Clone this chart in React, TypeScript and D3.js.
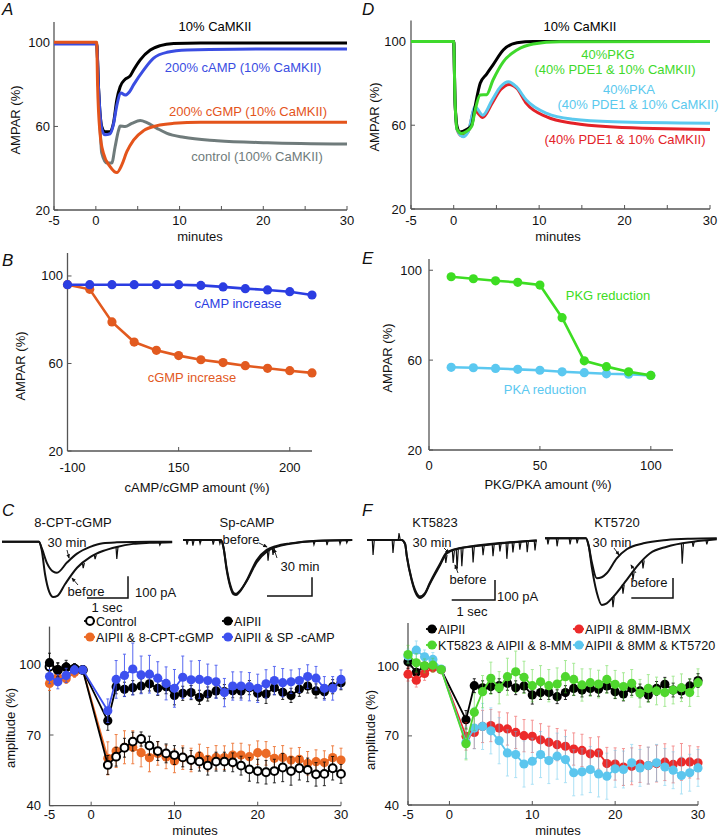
import React from 'react';
import * as d3 from 'd3';

const FONT = "'Liberation Sans', Arial, Helvetica, sans-serif";

// ---------------- Panel A (simulation, minutes vs AMPAR %) ----------------
const A_BLACK_T = [-5, 0.1, 0.3, 0.7, 1.1, 1.7, 2.1, 2.5, 2.9, 3.5, 4.1, 4.5, 5.3, 6.5, 7.7, 9.3, 12.5, 30];
const A_BLACK_V = [100, 100, 80, 60, 57.5, 57.5, 61.5, 72.7, 79, 82.6, 84.2, 87, 91.9, 96.6, 98.7, 99.7, 100, 100];
const A_BLUE_T = [-5, 0.1, 0.3, 0.7, 1.1, 1.7, 2.1, 2.5, 3.0, 3.5, 4.0, 4.5, 5.7, 6.9, 8.5, 10.9, 16.5, 30];
const A_BLUE_V = [99.5, 99.5, 80, 59, 56, 56.5, 61, 70, 76, 75, 76.5, 79.9, 87, 92.7, 95.5, 96.6, 97, 97.1];
const A_GRAY_T = [-5, 0.1, 0.3, 0.5, 0.7, 1.3, 1.9, 2.3, 2.7, 2.9, 3.5, 4.3, 5.3, 6.1, 7.3, 8.5, 10.5, 14.5, 20.5, 30];
const A_GRAY_V = [100, 100, 80, 60, 47.3, 42.5, 42.5, 50.3, 58, 60.2, 60, 61.5, 62.8, 61.8, 59.1, 56.7, 54.8, 53.2, 52.2, 51.6];
const A_ORANGE_T = [-5, 0.1, 0.2, 0.5, 0.9, 1.7, 2.5, 3.1, 3.7, 4.5, 5.7, 7.3, 9.3, 12.5, 30];
const A_ORANGE_V = [100.3, 100.3, 80.7, 56.7, 47.2, 40.8, 37.9, 41.6, 47.9, 53.5, 58, 60.4, 61.5, 62, 62];

// ---------------- Panel D ----------------
const D_BLACK_T = [-5, 0, 0.15, 0.4, 0.7, 1.5, 2.1, 2.5, 3.1, 3.85, 4.6, 5.8, 7.4, 9.3, 30];
const D_BLACK_V = [100, 100, 72, 59.2, 56.8, 58, 60, 68.8, 80, 84.4, 88.8, 95.9, 99.4, 100, 100];
const D_GREEN_T = [-5, 0, 0.15, 0.4, 0.9, 1.5, 2.1, 2.5, 3.1, 3.85, 4.6, 5.8, 7.4, 9.3, 12.4, 30];
const D_GREEN_V = [100, 100, 72, 58, 56, 57, 59.5, 67, 74.4, 74.6, 81.6, 90.3, 95.9, 98.8, 99.8, 100];
const D_CYAN_T = [-5, 0, 0.15, 0.4, 1.1, 1.7, 2.5, 3.4, 4.5, 5.5, 6.4, 7.3, 8.5, 10.9, 14, 18.7, 30];
const D_CYAN_V = [100, 100, 72, 58, 54.5, 57, 68.8, 64.8, 72, 78.5, 80.8, 78.5, 72, 65.6, 62.8, 61.6, 60.9];
const D_RED_T = [-5, 0, 0.15, 0.4, 0.9, 1.7, 2.4, 3.4, 4.5, 5.5, 6.5, 7.4, 8.5, 10.9, 14, 18.7, 30];
const D_RED_V = [100, 100, 72, 58, 55, 57, 67.2, 63.7, 70.5, 77, 79.5, 77.5, 70.4, 64, 60.9, 59.2, 58];

// ---------------- Panel B ----------------
const B_AMOUNT = [100, 110, 120, 130, 140, 150, 160, 170, 180, 190, 200, 210];
const B_CAMP = [96, 96, 96, 96, 96, 96, 95.7, 95, 94.2, 93.6, 92.8, 91.3];
const B_CGMP = [96, 93.9, 79, 69.8, 66, 63.6, 61.7, 60.4, 59, 57.8, 56.7, 55.7];
const B_X_TICKS = [100, 150, 200];
const B_X_LABELS = ['-100', '150', '200'];

// ---------------- Panel E ----------------
const E_AMOUNT = [10, 20, 30, 40, 50, 60, 70, 80, 90, 100];
const E_PKG = [97.1, 96.2, 95.3, 94.6, 93.4, 78.9, 59.7, 57.1, 54.8, 53.2];
const E_PKA = [56.8, 56.6, 56.3, 55.9, 55.5, 54.8, 54.4, 53.9, 53.7, 53.2];
const E_X_TICKS = [0, 50, 100];

const AMPAR_TICKS = [20, 60, 100];
const MIN_TICKS = [-5, 0, 5, 10, 15, 20, 25, 30];
const MIN_LABELS = ['-5', '0', '', '10', '', '20', '', '30'];
const EXP_X_TICKS = [-5, 0, 10, 20, 30];
const EXP_Y_TICKS = [40, 70, 100];

// ---------------- Panel C (experiment) ----------------
const EXP_T = [-5, -4, -3, -2, -1, 2, 3, 4, 5, 6, 7, 8, 9, 10, 11, 12, 13, 14, 15, 16, 17, 18, 19, 20, 21, 22, 23, 24, 25, 26, 27, 28, 29, 30];
const C_CONTROL = [99, 97.6, 98.7, 98.2, 97.6, 57.3, 60.8, 64.6, 67.2, 68.3, 65.5, 63.2, 62.2, 61.5, 60.5, 59.4, 58.7, 57, 58.7, 58.7, 58.4, 57, 55.4, 54.7, 54.2, 54.7, 56.2, 54.7, 55.9, 55.2, 53.3, 53.5, 55.9, 53.5];
const C_CONTROL_E = [3, 3, 2, 2, 1, 4, 4, 4, 4, 3, 4, 4, 4, 4, 4, 4, 4, 4, 4, 4, 4, 4, 5, 5, 5, 5, 6, 6, 5, 5, 5, 5, 5, 4];
const C_AIPII = [100.7, 97.6, 98.7, 98.2, 97.6, 76, 90.5, 89.4, 90.1, 90.8, 91.7, 89.8, 90.5, 86.8, 87.7, 88, 86, 87.4, 88.7, 88.4, 88.8, 88.7, 90.1, 87.7, 87.4, 90.1, 88.1, 86.8, 89.4, 90.8, 88.7, 88.4, 90.5, 92.2];
const C_AIPII_E = [4, 3, 3, 2, 1, 4, 3, 3, 3, 3, 3, 3, 3, 4, 3, 3, 3, 3, 3, 3, 3, 3, 3, 3, 4, 3, 3, 3, 3, 3, 3, 3, 3, 3];
const C_CGMP = [91.9, 94.5, 93.9, 96.5, 97.6, 60.1, 63.2, 64.8, 64.8, 62.5, 60.4, 62.2, 60.7, 59, 60.4, 59.4, 61.1, 59.7, 60.5, 60.4, 61.5, 61.5, 60.8, 62.5, 62.2, 60.1, 60.5, 59.4, 59.7, 58, 58.7, 58.3, 60.4, 59.4];
const C_CGMP_E = [3, 3, 2, 2, 1, 7, 7, 7, 7, 6, 6, 5, 5, 5, 5, 5, 5, 5, 5, 5, 5, 5, 5, 5, 5, 5, 5, 5, 5, 5, 5, 5, 5, 5];
const C_CAMP = [94.8, 92.6, 95.3, 97.6, 97.6, 80.3, 93.6, 95.3, 98, 95.5, 95.8, 94.1, 91.9, 89.8, 94.5, 93.4, 93.6, 93.1, 92.6, 88, 90.8, 90.8, 90.5, 89.8, 91.7, 93.1, 92.2, 92.6, 93.1, 94.8, 94.1, 89.8, 89.8, 93.6];
const C_CAMP_E = [3, 3, 3, 2, 1, 5, 8, 9, 11, 8, 8, 7, 7, 8, 9, 8, 8, 7, 7, 6, 6, 6, 6, 6, 6, 6, 6, 5, 5, 5, 5, 5, 5, 4];

// ---------------- Panel F (experiment) ----------------
const F_AIPII = [102.2, 97.6, 100.3, 100, 98.8, 77, 91.8, 90.9, 91.4, 91.8, 92.8, 90.9, 91.7, 87.8, 88.8, 88.8, 87, 88.8, 90.6, 89.9, 90.6, 90.2, 91.7, 89.2, 88.2, 90.6, 89.5, 87.8, 90.6, 92.4, 89.9, 89.5, 91.7, 94];
const F_AIPII_E = [3, 3, 3, 2, 1, 4, 3, 3, 3, 3, 3, 3, 3, 4, 3, 3, 3, 3, 3, 3, 3, 3, 3, 3, 3, 3, 3, 3, 3, 3, 3, 3, 3, 3];
const F_IBMX = [96.8, 94.2, 97.1, 99.6, 98.8, 69.8, 71.5, 74.1, 74.5, 73.4, 73, 71.5, 70.1, 69.8, 68.3, 67.2, 66.2, 65.5, 64.3, 63.7, 62.2, 62.6, 58, 57.8, 56.5, 56.8, 57.8, 57.1, 58, 58.6, 57.6, 58.7, 58.7, 58.3];
const F_IBMX_E = [3, 3, 3, 2, 1, 6, 7, 7, 7, 7, 7, 7, 7, 7, 7, 7, 7, 7, 7, 7, 7, 7, 7, 7, 8, 8, 8, 8, 8, 8, 8, 8, 7, 7];
const F_KT5720 = [104.7, 107.2, 104.3, 103.2, 99, 67.2, 73.4, 74.1, 72.2, 67.9, 62.6, 61.9, 57.8, 59, 61.9, 59.3, 61.2, 59.7, 54, 54.4, 55.4, 53.5, 52.5, 55.7, 55.4, 58.3, 56.1, 57.1, 58.3, 56.5, 55.1, 52.8, 54, 56.1];
const F_KT5720_E = [3, 4, 3, 3, 1, 7, 9, 10, 10, 10, 10, 10, 10, 10, 10, 10, 10, 10, 10, 10, 10, 10, 10, 8, 8, 8, 8, 8, 8, 8, 8, 8, 8, 8];
const F_KT5823 = [105.3, 101.7, 100.4, 100.7, 98.8, 66.6, 80.3, 89.2, 95, 90.9, 95.7, 97.8, 95.4, 91.8, 93.5, 91.8, 92.5, 95.7, 94.5, 92.1, 93.1, 92.5, 94.5, 92.4, 91.4, 92.8, 88.5, 90.6, 89.5, 88.8, 89.9, 90.9, 88.8, 93.1];
const F_KT5823_E = [4, 4, 3, 3, 1, 7, 8, 7, 7, 7, 8, 9, 7, 7, 7, 7, 7, 7, 7, 7, 6, 6, 6, 6, 6, 6, 6, 6, 6, 6, 6, 6, 6, 6];

// ---------------- Current traces (sec, pA) ----------------
const TC1_BEFORE_T = [0, 0.9, 0.97, 1.05, 1.15, 1.25, 1.35, 1.54, 1.83, 2.15, 2.46, 2.8, 3.2, 3.6, 4.15];
const TC1_BEFORE_I = [0, 0, -40, -150, -230, -255, -250, -195, -120, -71, -43, -24, -10, -5, -2];
const TC1_30_T = [0, 0.9, 0.97, 1.1, 1.25, 1.34, 1.59, 1.83, 2.15, 2.46, 2.8, 3.6, 4.15];
const TC1_30_I = [0, 0, -30, -100, -138, -143, -95, -55, -24, -7, -3, 0, 0];
const TC1_SPIKE_T = [1.98, 2.27, 2.8, 3.85];
const TC1_SPIKE_A = [25, 20, 55, 12];

const TC2_BEFORE_T = [0, 0.84, 0.9, 0.97, 1.05, 1.12, 1.18, 1.25, 1.42, 1.64, 1.86, 2.08, 2.38, 2.97, 3.76];
const TC2_BEFORE_I = [0, 0, -40, -160, -250, -290, -294, -280, -214, -107, -53, -32, -18, -4, 0];
const TC2_30_T = [0, 0.84, 0.9, 0.97, 1.05, 1.12, 1.18, 1.25, 1.42, 1.64, 1.86, 2.08, 2.38, 2.97, 3.76];
const TC2_30_I = [0, 0, -40, -150, -240, -282, -288, -275, -218, -118, -62, -36, -20, -5, 0];
const TC2_SPIKE_T = [0.09, 0.22, 0.38, 0.67, 0.82, 1.89, 2.0, 2.91, 3.2, 3.49, 3.64];
const TC2_SPIKE_A = [25, 30, 20, 25, 20, 60, 40, 20, 25, 20, 15];

const TF1_BEFORE_T = [0, 0.8, 0.88, 0.92, 1.03, 1.11, 1.22, 1.34, 1.45, 1.69, 1.84, 2.15, 2.53, 3.07, 3.92];
const TF1_BEFORE_I = [0, 0, -20, -83, -200, -258, -290, -270, -220, -125, -67, -42, -30, -17, -2];
const TF1_30_T = [0, 0.8, 0.88, 0.92, 1.03, 1.11, 1.22, 1.34, 1.45, 1.69, 1.84, 2.15, 2.53, 3.07, 3.92];
const TF1_30_I = [0, 0, -20, -80, -195, -250, -282, -265, -215, -118, -62, -40, -28, -15, -2];
const TF1_SPIKE_T = [0.14, 0.6, 0.74, 1.82, 1.99, 2.08, 2.19, 2.45, 2.68, 2.91, 3.07, 3.23, 3.37, 3.53, 3.7, 3.88];
const TF1_SPIKE_A = [75, 65, -35, 40, 60, 100, 90, 80, 50, 60, 40, 80, 50, 40, 55, 50];

const TF2_BEFORE_T = [0, 0.98, 1.05, 1.12, 1.24, 1.36, 1.48, 1.64, 1.96, 2.2, 2.52, 2.92, 3.56, 4.12];
const TF2_BEFORE_I = [0, 0, -40, -142, -270, -333, -325, -292, -208, -142, -75, -42, -17, -5];
const TF2_30_T = [0, 0.98, 1.05, 1.12, 1.24, 1.36, 1.48, 1.72, 1.96, 2.36, 2.92, 3.5, 4.12];
const TF2_30_I = [0, 0, -40, -117, -200, -195, -175, -100, -55, -25, -8, -2, 0];
const TF2_SPIKE_T = [0.07, 0.29, 0.6, 0.77, 1.63, 1.87, 2.11, 2.35, 3.29, 3.55, 3.88];
const TF2_SPIKE_A = [30, 40, 30, 25, 50, 45, 40, 40, 100, 25, 20];

// ---------------- colours ----------------
const COL = {
  black: '#000000',
  aBlue: '#3a4de2', aOrange: '#e4541b', aGray: '#6f7b7b',
  dGreen: '#3fd92c', dCyan: '#5bc9ee', dRed: '#e32228',
  bBlue: '#2b3de2', bOrange: '#e25a1f',
  eGreen: '#3ddd22', eCyan: '#5bc8f0',
  cOrange: '#ec6a25', cBlue: '#3d50ef',
  fRed: '#ec2a2a', fGreen: '#4fd62e', fCyan: '#5cc6ee',
  axis: '#555555',
};

type Pt = [number, number];
type LS = d3.ScaleLinear<number, number>;
const zip = (a: number[], b: number[]): Pt[] => a.map((t, i) => [t, b[i]]);

const TXT = { fontFamily: FONT, fontSize: 13 } as const;

function Axes(p: {
  xs: LS; ys: LS; xTicks: number[]; xLabels: string[]; yTicks: number[];
  xLabelY: number; yLabelX: number; xTitle: string; xTitleX: number; xTitleY: number;
  yTitle: string; yTitleX: number; yTitleY: number; xLabelDx?: number;
}) {
  const { xs, ys } = p;
  const [x0, x1] = xs.range();
  const [y0, y1] = ys.range();
  return (
    <g style={TXT}>
      <line x1={x0} x2={x0} y1={y1} y2={y0} stroke={COL.axis} strokeWidth={1.3} />
      <line x1={x0} x2={x1} y1={y0} y2={y0} stroke={COL.axis} strokeWidth={1.3} />
      {p.xTicks.map((t) => (
        <line key={'xt' + t} x1={xs(t)} x2={xs(t)} y1={y0} y2={y0 - 4} stroke={COL.axis} strokeWidth={1} />
      ))}
      {p.xTicks.map((t, i) => (
        <text key={'xl' + t} x={xs(t) + (i === 0 ? p.xLabelDx || 0 : 0)} y={p.xLabelY} textAnchor="middle" fill="#111">
          {p.xLabels[i]}
        </text>
      ))}
      {p.yTicks.map((t) => (
        <line key={'yt' + t} x1={x0} x2={x0 + 4} y1={ys(t)} y2={ys(t)} stroke={COL.axis} strokeWidth={1} />
      ))}
      {p.yTicks.map((t) => (
        <text key={'yl' + t} x={p.yLabelX} y={ys(t) + 4.5} textAnchor="end" fill="#111">
          {t}
        </text>
      ))}
      <text x={p.xTitleX} y={p.xTitleY} textAnchor="middle" fill="#111">{p.xTitle}</text>
      <text transform={`translate(${p.yTitleX + 4.5},${p.yTitleY}) rotate(-90)`} textAnchor="middle" fill="#111">
        {p.yTitle}
      </text>
    </g>
  );
}

function Label(p: { x: number; y: number; color: string; children: React.ReactNode; anchor?: string }) {
  return (
    <text x={p.x} y={p.y} fill={p.color} textAnchor={(p.anchor || 'middle') as any} style={TXT}>
      {p.children}
    </text>
  );
}

function PanelLetter(p: { x: number; y: number; t: string }) {
  return (
    <text x={p.x} y={p.y} style={{ fontFamily: FONT, fontSize: 17, fontStyle: 'italic' }} fill="#111">
      {p.t}
    </text>
  );
}

function SmoothCurve(p: { xs: LS; ys: LS; t: number[]; v: number[]; color: string; w?: number }) {
  const gen = d3.line<Pt>().x((d) => p.xs(d[0])).y((d) => p.ys(d[1])).curve(d3.curveMonotoneX);
  return <path d={gen(zip(p.t, p.v)) || ''} fill="none" stroke={p.color} strokeWidth={p.w || 3} strokeLinejoin="round" />;
}

function DotLine(p: { xs: LS; ys: LS; x: number[]; v: number[]; color: string; r?: number }) {
  const gen = d3.line<Pt>().x((d) => p.xs(d[0])).y((d) => p.ys(d[1]));
  const pts = zip(p.x, p.v);
  return (
    <g>
      <path d={gen(pts) || ''} fill="none" stroke={p.color} strokeWidth={2.6} />
      {pts.map((d, i) => (
        <circle key={i} cx={p.xs(d[0])} cy={p.ys(d[1])} r={p.r || 4.6} fill={p.color} />
      ))}
    </g>
  );
}

function ErrSeries(p: {
  xs: LS; ys: LS; t: number[]; v: number[]; e: number[]; color: string; barColor?: string;
  open?: boolean; barOpacity?: number;
}) {
  const gen = d3.line<Pt>().x((d) => p.xs(d[0])).y((d) => p.ys(d[1]));
  const pts = zip(p.t, p.v);
  const bc = p.barColor || p.color;
  return (
    <g>
      <g opacity={p.barOpacity ?? 0.85}>
        {pts.map((d, i) => {
          const x = p.xs(d[0]);
          const ya = p.ys(d[1] - p.e[i]);
          const yb = p.ys(d[1] + p.e[i]);
          return (
            <g key={i}>
              <line x1={x} x2={x} y1={ya} y2={yb} stroke={bc} strokeWidth={1} />
              <line x1={x - 1.5} x2={x + 1.5} y1={ya} y2={ya} stroke={bc} strokeWidth={1} />
              <line x1={x - 1.5} x2={x + 1.5} y1={yb} y2={yb} stroke={bc} strokeWidth={1} />
            </g>
          );
        })}
      </g>
      <path d={gen(pts) || ''} fill="none" stroke={p.color} strokeWidth={1.8} />
      {pts.map((d, i) =>
        p.open ? (
          <circle key={i} cx={p.xs(d[0])} cy={p.ys(d[1])} r={3.9} fill="#fff" stroke={p.color} strokeWidth={2} />
        ) : (
          <circle key={i} cx={p.xs(d[0])} cy={p.ys(d[1])} r={4.6} fill={p.color} />
        )
      )}
    </g>
  );
}

function LegendItem(p: { x: number; y: number; color: string; text: string; open?: boolean }) {
  return (
    <g>
      <line x1={p.x - 6} x2={p.x + 5} y1={p.y} y2={p.y} stroke={p.color} strokeWidth={1.8} />
      {p.open ? (
        <circle cx={p.x} cy={p.y} r={3.9} fill="#fff" stroke={p.color} strokeWidth={2} />
      ) : (
        <circle cx={p.x} cy={p.y} r={4.6} fill={p.color} />
      )}
      <text x={p.x + 6} y={p.y + 4.5} style={{ fontFamily: FONT, fontSize: 12.6 }} fill="#111">{p.text}</text>
    </g>
  );
}

function Trace(p: {
  xs: LS; ys: LS; a: [number[], number[]]; b: [number[], number[]]; spT: number[]; spA: number[];
}) {
  const gen = d3.line<Pt>().x((d) => p.xs(d[0])).y((d) => p.ys(d[1])).curve(d3.curveMonotoneX);
  const base = d3.scaleLinear().domain(p.a[0]).range(p.a[1]);
  return (
    <g>
      <path d={gen(zip(p.a[0], p.a[1])) || ''} fill="none" stroke="#111" strokeWidth={2} />
      <path d={gen(zip(p.b[0], p.b[1])) || ''} fill="none" stroke="#111" strokeWidth={2} />
      {p.spT.map((t, i) => {
        const b = base(t);
        const x = p.xs(t);
        return (
          <path
            key={i}
            d={`M${x - 0.8},${p.ys(b)}L${x},${p.ys(b - p.spA[i])}L${x + 1.2},${p.ys(b)}`}
            fill="none"
            stroke="#111"
            strokeWidth={1.2}
          />
        );
      })}
    </g>
  );
}

function ScaleBar(p: { xs: LS; ys: LS; x: number; y: number }) {
  // horizontal 1 sec ending at (x, y), vertical 100 pA rising from (x, y)
  const w = p.xs(1) - p.xs(0);
  const h = Math.abs(p.ys(0) - p.ys(-100));
  return <path d={`M${p.x - w},${p.y}L${p.x},${p.y}L${p.x},${p.y - h}`} fill="none" stroke="#111" strokeWidth={1.5} />;
}

function Arrow(p: { x1: number; y1: number; x2: number; y2: number }) {
  return <line x1={p.x1} y1={p.y1} x2={p.x2} y2={p.y2} stroke="#111" strokeWidth={0.9} markerEnd="url(#ah)" />;
}

export default function App() {
  // scales
  const xA = d3.scaleLinear().domain([-5, 30]).range([54, 347]);
  const yA = d3.scaleLinear().domain([20, 110]).range([210, 22]);
  const xD = d3.scaleLinear().domain([-5, 30]).range([411, 710]);
  const yD = d3.scaleLinear().domain([20, 110]).range([209, 20.5]);
  const xB = d3.scaleLinear().domain([100, 210]).range([67.5, 312]);
  const yB = d3.scaleLinear().domain([20, 110.5]).range([451, 253]);
  const xE = d3.scaleLinear().domain([0, 110]).range([429, 673]);
  const yE = d3.scaleLinear().domain([20, 105]).range([450, 259]);
  const xC = d3.scaleLinear().domain([-5, 30]).range([49.5, 341]);
  const yC = d3.scaleLinear().domain([40, 116]).range([805.7, 626.6]);
  const xF = d3.scaleLinear().domain([-5, 30]).range([408, 698]);
  const yF = d3.scaleLinear().domain([40, 119]).range([805, 623]);

  const xT1 = d3.scaleLinear().domain([0, 1]).range([2, 43]);
  const yT1 = d3.scaleLinear().domain([0, -100]).range([541.7, 563.4]);
  const xT2 = d3.scaleLinear().domain([0, 1]).range([183, 228]);
  const yT2 = d3.scaleLinear().domain([0, -100]).range([540, 558.7]);
  const xT3 = d3.scaleLinear().domain([0, 1]).range([367, 410.3]);
  const yT3 = d3.scaleLinear().domain([0, -100]).range([540, 560]);
  const xT4 = d3.scaleLinear().domain([0, 1]).range([545, 586.7]);
  const yT4 = d3.scaleLinear().domain([0, -100]).range([538.3, 558.3]);

  return (
    <svg width={720} height={837} viewBox="0 0 720 837" style={{ position: 'absolute', left: 0, top: 0, background: '#fff' }}>
      <defs>
        <marker id="ah" viewBox="0 0 6 6" refX={5} refY={3} markerWidth={5} markerHeight={5} orient="auto">
          <path d="M0,0.5L6,3L0,5.5z" fill="#111" />
        </marker>
      </defs>
      <rect x={0} y={0} width={720} height={837} fill="#fff" />

      {/* ---------- A ---------- */}
      <PanelLetter x={2} y={15} t="A" />
      <Axes xs={xA} ys={yA} xTicks={MIN_TICKS} xLabels={MIN_LABELS} yTicks={AMPAR_TICKS} xLabelY={225} yLabelX={50}
        xTitle="minutes" xTitleX={200} xTitleY={241} yTitle="AMPAR (%)" yTitleX={15} yTitleY={120} />
      <SmoothCurve xs={xA} ys={yA} t={A_GRAY_T} v={A_GRAY_V} color={COL.aGray} />
      <SmoothCurve xs={xA} ys={yA} t={A_BLACK_T} v={A_BLACK_V} color={COL.black} />
      <SmoothCurve xs={xA} ys={yA} t={A_BLUE_T} v={A_BLUE_V} color={COL.aBlue} />
      <SmoothCurve xs={xA} ys={yA} t={A_ORANGE_T} v={A_ORANGE_V} color={COL.aOrange} />
      <Label x={215} y={31} color={COL.black}>10% CaMKII</Label>
      <Label x={243} y={72} color={COL.aBlue}>200% cAMP (10% CaMKII)</Label>
      <Label x={248} y={116} color={COL.aOrange}>200% cGMP (10% CaMKII)</Label>
      <Label x={257} y={161} color={COL.aGray}>control (100% CaMKII)</Label>

      {/* ---------- D ---------- */}
      <PanelLetter x={362} y={15} t="D" />
      <Axes xs={xD} ys={yD} xTicks={MIN_TICKS} xLabels={MIN_LABELS} yTicks={AMPAR_TICKS} xLabelY={225} yLabelX={406}
        xTitle="minutes" xTitleX={558} xTitleY={241} yTitle="AMPAR (%)" yTitleX={374} yTitleY={117} />
      <SmoothCurve xs={xD} ys={yD} t={D_RED_T} v={D_RED_V} color={COL.dRed} />
      <SmoothCurve xs={xD} ys={yD} t={D_CYAN_T} v={D_CYAN_V} color={COL.dCyan} />
      <SmoothCurve xs={xD} ys={yD} t={D_BLACK_T} v={D_BLACK_V} color={COL.black} />
      <SmoothCurve xs={xD} ys={yD} t={D_GREEN_T} v={D_GREEN_V} color={COL.dGreen} />
      <Label x={580} y={31} color={COL.black}>10% CaMKII</Label>
      <Label x={608} y={59} color={COL.dGreen}>40%PKG</Label>
      <Label x={615} y={74} color={COL.dGreen}>(40% PDE1 &amp; 10% CaMKII)</Label>
      <Label x={629} y={94} color={COL.dCyan}>40%PKA</Label>
      <Label x={638} y={109} color={COL.dCyan}>(40% PDE1 &amp; 10% CaMKII)</Label>
      <Label x={625} y={144} color={COL.dRed}>(40% PDE1 &amp; 10% CaMKII)</Label>

      {/* ---------- B ---------- */}
      <PanelLetter x={2} y={266} t="B" />
      <Axes xs={xB} ys={yB} xTicks={B_X_TICKS} xLabels={B_X_LABELS} yTicks={AMPAR_TICKS} xLabelY={472} yLabelX={63}
        xLabelDx={5} xTitle="cAMP/cGMP amount (%)" xTitleX={197} xTitleY={492} yTitle="AMPAR (%)" yTitleX={20} yTitleY={366} />
      <DotLine xs={xB} ys={yB} x={B_AMOUNT} v={B_CGMP} color={COL.bOrange} />
      <DotLine xs={xB} ys={yB} x={B_AMOUNT} v={B_CAMP} color={COL.bBlue} />
      <Label x={238} y={308} color={COL.bBlue}>cAMP increase</Label>
      <Label x={192} y={382} color={COL.bOrange}>cGMP increase</Label>

      {/* ---------- E ---------- */}
      <PanelLetter x={362} y={264} t="E" />
      <Axes xs={xE} ys={yE} xTicks={E_X_TICKS} xLabels={E_X_TICKS.map(String)} yTicks={AMPAR_TICKS} xLabelY={470} yLabelX={422}
        xTitle="PKG/PKA amount (%)" xTitleX={548} xTitleY={489} yTitle="AMPAR (%)" yTitleX={387} yTitleY={358} />
      <DotLine xs={xE} ys={yE} x={E_AMOUNT} v={E_PKA} color={COL.eCyan} />
      <DotLine xs={xE} ys={yE} x={E_AMOUNT} v={E_PKG} color={COL.eGreen} />
      <Label x={608} y={300} color={COL.eGreen}>PKG reduction</Label>
      <Label x={545} y={394} color={COL.eCyan}>PKA reduction</Label>

      {/* ---------- C traces ---------- */}
      <PanelLetter x={2} y={516} t="C" />
      <Label x={73} y={527} color="#111">8-CPT-cGMP</Label>
      <Trace xs={xT1} ys={yT1} a={[TC1_BEFORE_T, TC1_BEFORE_I]} b={[TC1_30_T, TC1_30_I]} spT={TC1_SPIKE_T} spA={TC1_SPIKE_A} />
      <Label x={67} y={547} color="#111">30 min</Label>
      <Arrow x1={67} y1={550} x2={69} y2={558} />
      <Label x={86} y={596} color="#111">before</Label>
      <Arrow x1={78} y1={585} x2={72} y2={578} />
      <ScaleBar xs={xT1} ys={yT1} x={128} y={598} />
      <Label x={135} y={597} color="#111" anchor="start">100 pA</Label>
      <Label x={107} y={612} color="#111">1 sec</Label>

      <Label x={247} y={527} color="#111">Sp-cAMP</Label>
      <Trace xs={xT2} ys={yT2} a={[TC2_BEFORE_T, TC2_BEFORE_I]} b={[TC2_30_T, TC2_30_I]} spT={TC2_SPIKE_T} spA={TC2_SPIKE_A} />
      <Label x={241} y={544} color="#111">before</Label>
      <Arrow x1={259} y1={543} x2={267} y2={547} />
      <Label x={300} y={571} color="#111">30 min</Label>
      <Arrow x1={277} y1={558} x2={274} y2={549} />
      <ScaleBar xs={xT2} ys={yT2} x={312} y={596} />

      {/* ---------- C summary ---------- */}
      <Axes xs={xC} ys={yC} xTicks={EXP_X_TICKS} xLabels={EXP_X_TICKS.map(String)} yTicks={EXP_Y_TICKS} xLabelY={819} yLabelX={41}
        xTitle="minutes" xTitleX={195} xTitleY={834.5} yTitle="amplitude (%)" yTitleX={10} yTitleY={728} />
      <ErrSeries xs={xC} ys={yC} t={EXP_T} v={C_CGMP} e={C_CGMP_E} color={COL.cOrange} />
      <ErrSeries xs={xC} ys={yC} t={EXP_T} v={C_CONTROL} e={C_CONTROL_E} color={COL.black} open />
      <ErrSeries xs={xC} ys={yC} t={EXP_T} v={C_AIPII} e={C_AIPII_E} color={COL.black} />
      <ErrSeries xs={xC} ys={yC} t={EXP_T} v={C_CAMP} e={C_CAMP_E} color={COL.cBlue} />
      <LegendItem x={90} y={621} color={COL.black} text="Control" open />
      <LegendItem x={228} y={621} color={COL.black} text="AIPII" />
      <LegendItem x={90} y={637} color={COL.cOrange} text="AIPII & 8-CPT-cGMP" />
      <LegendItem x={228} y={637} color={COL.cBlue} text="AIPII & SP -cAMP" />

      {/* ---------- F traces ---------- */}
      <PanelLetter x={362} y={516} t="F" />
      <Label x={435} y={527} color="#111">KT5823</Label>
      <Trace xs={xT3} ys={yT3} a={[TF1_BEFORE_T, TF1_BEFORE_I]} b={[TF1_30_T, TF1_30_I]} spT={TF1_SPIKE_T} spA={TF1_SPIKE_A} />
      <Label x={432} y={547} color="#111">30 min</Label>
      <Arrow x1={444} y1={548} x2={449} y2={553} />
      <Label x={468} y={584} color="#111">before</Label>
      <Arrow x1={458} y1={573} x2={455} y2={565} />
      <ScaleBar xs={xT3} ys={yT3} x={495} y={600} />
      <Label x={497} y={601} color="#111" anchor="start">100 pA</Label>
      <Label x={472} y={616} color="#111">1 sec</Label>

      <Label x={617} y={527} color="#111">KT5720</Label>
      <Trace xs={xT4} ys={yT4} a={[TF2_BEFORE_T, TF2_BEFORE_I]} b={[TF2_30_T, TF2_30_I]} spT={TF2_SPIKE_T} spA={TF2_SPIKE_A} />
      <Label x={612} y={547} color="#111">30 min</Label>
      <Arrow x1={614} y1={548} x2={619} y2={555} />
      <Label x={649} y={587} color="#111">before</Label>
      <Arrow x1={636} y1={573} x2={631} y2={565} />
      <ScaleBar xs={xT4} ys={yT4} x={673} y={598} />

      {/* ---------- F summary ---------- */}
      <Axes xs={xF} ys={yF} xTicks={EXP_X_TICKS} xLabels={EXP_X_TICKS.map(String)} yTicks={EXP_Y_TICKS} xLabelY={819} yLabelX={399}
        xTitle="minutes" xTitleX={558} xTitleY={834.5} yTitle="amplitude (%)" yTitleX={370} yTitleY={730} />
      <ErrSeries xs={xF} ys={yF} t={EXP_T} v={F_AIPII} e={F_AIPII_E} color={COL.black} />
      <ErrSeries xs={xF} ys={yF} t={EXP_T} v={F_IBMX} e={F_IBMX_E} color={COL.fRed} barOpacity={0.5} />
      <ErrSeries xs={xF} ys={yF} t={EXP_T} v={F_KT5720} e={F_KT5720_E} color={COL.fCyan} barOpacity={0.5} />
      <ErrSeries xs={xF} ys={yF} t={EXP_T} v={F_KT5823} e={F_KT5823_E} color={COL.fGreen} barOpacity={0.5} />
      <LegendItem x={432} y={629} color={COL.black} text="AIPII" />
      <LegendItem x={579} y={629} color={COL.fRed} text="AIPII & 8MM-IBMX" />
      <LegendItem x={432} y={645} color={COL.fGreen} text="KT5823 & AIPII & 8-MM" />
      <LegendItem x={579} y={645} color={COL.fCyan} text="AIPII & 8MM & KT5720" />
    </svg>
  );
}
